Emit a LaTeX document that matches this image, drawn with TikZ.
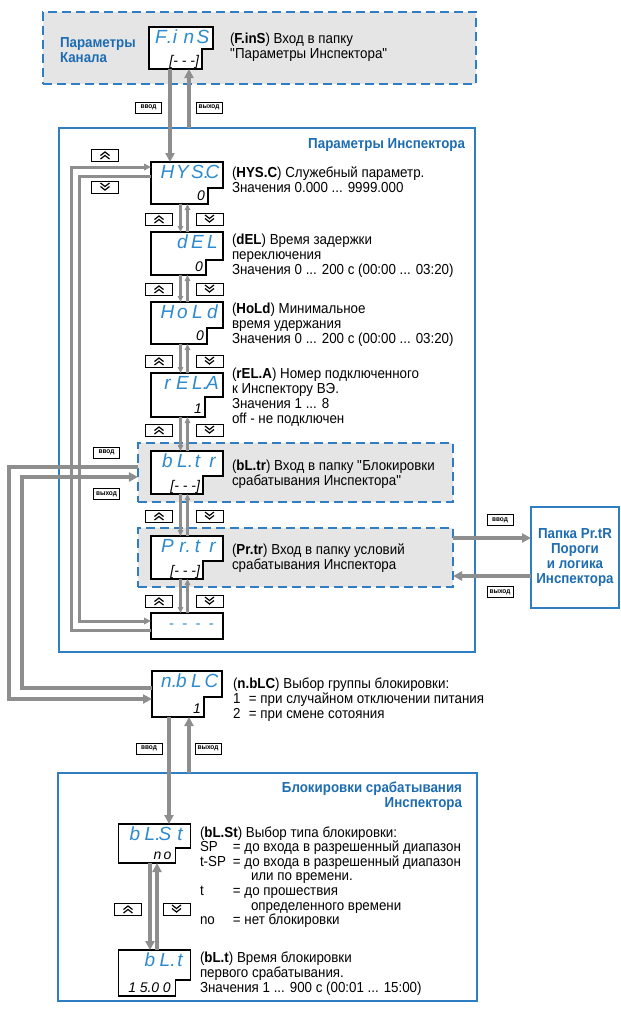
\documentclass[tikz,border=0pt]{standalone}
\usepackage{fontspec}
\setmainfont{Liberation Sans}[FakeStretch=0.92]
\newfontfamily\segfont{Liberation Sans}
\usetikzlibrary{arrows.meta}
\definecolor{tblue}{HTML}{1D6CB2}
\definecolor{bblue}{HTML}{2F7EC2}
\definecolor{sblue}{HTML}{2C8AD0}
\definecolor{agray}{HTML}{8E8E8E}
\definecolor{gfill}{HTML}{E5E5E5}
\newcommand\dg[2][15bp]{\makebox[#1][c]{#2}}
\newcommand\dispR[9]{%
  \node[minimum width=#4bp,minimum height=#5bp] (#1) at (#2,#3) {};
  \filldraw[dline] (#1.north west) -- (#1.north east) -- ([yshift=#7bp]#1.south east) -- ([xshift=-#6bp,yshift=#7bp]#1.south east) -- ([xshift=-#6bp]#1.south east) -- (#1.south west) -- cycle;
  \node[segtop,anchor=north east] (#1-t) at ([xshift=-3bp,yshift=-3bp]#1.north east) {#8};
  \node[segbot,anchor=base east] (#1-b) at ([xshift=-#6bp-3bp,yshift=4bp]#1.south east) {#9};
}
\begin{document}
\begin{tikzpicture}[x=1bp,y=-1bp,
  every node/.style={inner sep=0pt,outer sep=0pt},
  body/.style={font=\fontsize{14.5bp}{15.3bp}\selectfont,align=left,anchor=base west},
  ttl/.style={font=\fontsize{14.5bp}{15bp}\selectfont\bfseries,text=tblue},
  panel/.style={draw=bblue,line width=1.6bp},
  grp/.style={draw=bblue,fill=gfill,line width=1.8bp,dash pattern=on 9bp off 5bp},
  dline/.style={draw=black,fill=white,line width=1.3bp},
  segtop/.style={font=\segfont\itshape\fontsize{19bp}{19bp}\selectfont,text=sblue},
  segbot/.style={font=\segfont\itshape\fontsize{14bp}{14bp}\selectfont,text=black},
  keybox/.style={draw=black,fill=white,line width=0.9bp,minimum width=27bp,minimum height=12bp},
  keyup/.style={keybox,path picture={
    \draw[line width=1.2bp]
     ([xshift=-4.5bp,yshift=-4bp]path picture bounding box.center) -- ++(4.5bp,3.5bp) -- ++(4.5bp,-3.5bp)
     ([xshift=-4.5bp,yshift=-0.5bp]path picture bounding box.center) -- ++(4.5bp,3.5bp) -- ++(4.5bp,-3.5bp);}},
  keydown/.style={keybox,path picture={
    \draw[line width=1.2bp]
     ([xshift=-4.5bp,yshift=4bp]path picture bounding box.center) -- ++(4.5bp,-3.5bp) -- ++(4.5bp,3.5bp)
     ([xshift=-4.5bp,yshift=0.5bp]path picture bounding box.center) -- ++(4.5bp,-3.5bp) -- ++(4.5bp,3.5bp);}},
  lbl/.style={draw=black,fill=white,line width=0.8bp,minimum width=26bp,minimum height=11bp,font=\fontsize{7bp}{7bp}\selectfont\bfseries},
  garrow/.style={draw=agray,line width=3.6bp,-{Triangle[length=9bp,width=9bp]}},
  larrow/.style={draw=agray,line width=3bp,-{Triangle[length=7bp,width=6.5bp]}},
  parrow/.style={draw=agray,line width=2.4bp,-{Triangle[length=6bp,width=5.5bp]}},
]
\useasboundingbox (0,0) rectangle (621,1010);

% panels
\node[panel,minimum width=416bp,minimum height=524bp] (insp) at (267,390) {};
\node[panel,minimum width=419bp,minimum height=228bp] (bot) at (267.5,887) {};
\node[grp,minimum width=433bp,minimum height=72bp] (canal) at (259.5,48) {};
\node[grp,minimum width=315bp,minimum height=59bp] (bltrG) at (295.5,472.5) {};
\node[grp,minimum width=315bp,minimum height=59bp] (prtrG) at (295.5,557.5) {};
\node[panel,fill=white,minimum width=88bp,minimum height=101bp,ttl,align=center] (prtR) at (575,557.5) {Папка Pr.tR\\Пороги\\и логика\\Инспектора};

% titles
\node[ttl,anchor=base west,align=left] (canalT) at (60,62) {Параметры\\Канала};
\node[ttl,anchor=base east] (inspT) at (465,148) {Параметры Инспектора};
\node[ttl,anchor=base east,align=right] (botT) at (462,807) {Блокировки срабатывания\\Инспектора};

% displays
\dispR{finS}{181}{48}{64}{42}{11}{20}{\dg[14bp]{F\rlap{.}}\dg[14bp]{i}\dg[14bp]{n}\dg[14bp]{S}}{[- - -]}
\dispR{hysc}{187}{183}{72}{42}{15}{16}{\dg{H}\dg{Y}\dg{S\rlap{.}}\dg{C}}{0}
\dispR{del}{187}{253.5}{72}{43}{17}{15}{\dg{d}\dg{E}\dg{L}}{0}
\dispR{hold}{187}{323}{72}{42}{16}{16}{\dg{H}\dg{o}\dg{L}\dg{d}}{0}
\dispR{rela}{187}{395}{72}{44}{18}{20}{\dg{r}\dg{E}\dg{L\rlap{.}}\dg{A}}{1}
\dispR{bltr}{187}{472.5}{72}{43}{20}{18}{\dg{b}\dg{L\rlap{.}}\dg{t}\dg{r}}{[- - -]}
\dispR{prtr}{187}{557.5}{72}{43}{20}{18}{\dg{P}\dg{r\rlap{.}}\dg{t}\dg{r}}{[- - -]}
\node[dline,minimum width=72bp,minimum height=26bp] (dash) at (187,626) {};
\node[segtop,font=\segfont\fontsize{15bp}{15bp}\selectfont,anchor=east] (dash-t) at ([xshift=-9bp]dash.east) {-\ \ -\ \ -\ \ -};
\dispR{nblc}{187}{694}{70}{46}{18}{20}{\dg{n\rlap{.}}\dg{b}\dg{L}\dg{C}}{1}
\dispR{blst}{154.5}{843.5}{72}{39}{15}{15}{\dg{b}\dg{L\rlap{.}}\dg{S}\dg{t}}{\dg[10bp]{n}\dg[10bp]{o}}
\dispR{blt}{154.5}{973}{72}{46}{15}{16}{\dg{b}\dg{L\rlap{.}}\dg{t}}{\dg[11.5bp]{1}\dg[11.5bp]{5\rlap{.}}\dg[11.5bp]{0}\dg[11.5bp]{0}}

% coordinates for connectors
\coordinate (xin1) at (170,0);
\coordinate (xout1) at (189,0);
\coordinate (xpd) at (180.5,0);
\coordinate (xpu) at (187.5,0);
\coordinate (xin2) at (169,0);
\coordinate (xout2) at (189,0);
\coordinate (xbd) at (150,0);
\coordinate (xbu) at (157,0);
\coordinate (o1) at (9,467);
\coordinate (o2) at (9,699);
\coordinate (i1) at (22,477);
\coordinate (i2) at (22,688);
\coordinate (la) at (71,167);
\coordinate (lb) at (71,630);
\coordinate (lc) at (79,176);
\coordinate (ld) at (79,621);
\coordinate (yp1) at (0,538);
\coordinate (yp2) at (0,576);

% connectors
\draw[garrow] (finS.south -| xin1) -- (hysc.north -| xin1);
\draw[garrow] (insp.north -| xout1) -- (finS.south -| xout1);
\foreach \a/\b in {hysc/del,del/hold,hold/rela,rela/bltr,bltr/prtr,prtr/dash}{
  \draw[parrow] (\a.south -| xpd) -- (\b.north -| xpd);
  \draw[parrow] (\b.north -| xpu) -- (\a.south -| xpu);
}
\draw[larrow] (dash.west |- lb) -- (lb) -- (la) -- (hysc.west |- la);
\draw[larrow] (hysc.west |- lc) -- (lc) -- (ld) -- (dash.west |- ld);
\draw[garrow] (bltrG.west |- o1) -- (o1) -- (o2) -- (nblc.west |- o2);
\draw[garrow] (nblc.west |- i2) -- (i2) -- (i1) -- (bltrG.west |- i1);
\draw[garrow] (prtrG.east |- yp1) -- (prtR.west |- yp1);
\draw[garrow] (prtR.west |- yp2) -- (prtrG.east |- yp2);
\draw[garrow] (nblc.south -| xin2) -- (blst.north -| xin2);
\draw[garrow] (bot.north -| xout2) -- (nblc.south -| xout2);
\draw[garrow] (blst.south -| xbd) -- (blt.north -| xbd);
\draw[garrow] (blt.north -| xbu) -- (blst.south -| xbu);

% keys
\node[keyup] (kl1) at (105,155) {};
\node[keydown] (kl2) at (105,187) {};
\foreach \y [count=\i] in {219,289,361,430,516,601}{
  \node[keyup] (ku\i) at (159,\y) {};
  \node[keydown] (kd\i) at (209.5,\y) {};
}
\node[keyup] (kub) at (128,909) {};
\node[keydown] (kdb) at (176.5,909) {};

% labels
\node[lbl] (in1) at (148.5,107.5) {ввод};
\node[lbl] (out1) at (209,107.5) {выход};
\node[lbl] (in2) at (106.5,452.5) {ввод};
\node[lbl] (out2) at (106.5,494) {выход};
\node[lbl] (in3) at (500,520) {ввод};
\node[lbl] (out3) at (500,592) {выход};
\node[lbl] (in4) at (149,748.5) {ввод};
\node[lbl] (out4) at (208,748.5) {выход};

% texts (base anchor = baseline of the last line)
\node[body] (finsTx) at (230,58.3) {(\textbf{F.inS}) Вход в папку\\\textquotedbl Параметры Инспектора\textquotedbl};
\node[body] (hyscTx) at (232,192.3) {(\textbf{HYS.C}) Служебный параметр.\\Значения 0.000 ... 9999.000};
\node[body] (delTx) at (232,274.6) {(\textbf{dEL}) Время задержки\\переключения\\Значения 0 ... 200 с (00:00 ... 03:20)};
\node[body] (holdTx) at (232,343.6) {(\textbf{HoLd}) Минимальное\\время удержания\\Значения 0 ... 200 с (00:00 ... 03:20)};
\node[body] (relaTx) at (232,423.9) {(\textbf{rEL.A}) Номер подключенного\\к Инспектору ВЭ.\\Значения 1 ... 8\\off - не подключен};
\node[body] (bltrTx) at (232,485.3) {(\textbf{bL.tr}) Вход в папку \textquotedbl Блокировки\\срабатывания Инспектора\textquotedbl};
\node[body] (prtrTx) at (232,569.3) {(\textbf{Pr.tr}) Вход в папку условий\\срабатывания Инспектора};
\node[body] (nblcTx) at (233,718.6) {(\textbf{n.bLC}) Выбор группы блокировки:\\\makebox[16bp][l]{1}= при случайном отключении питания\\\makebox[16bp][l]{2}= при смене сотояния};
\node[body,font=\fontsize{14.5bp}{14.6bp}\selectfont] (blstTx) at (200,924.6) {(\textbf{bL.St}) Выбор типа блокировки:\\\makebox[33bp][l]{SP}= до входа в разрешенный диапазон\\\makebox[33bp][l]{t-SP}= до входа в разрешенный диапазон\\\hspace*{51bp}или по времени.\\\makebox[33bp][l]{t}= до прошествия\\\hspace*{51bp}определенного времени\\\makebox[33bp][l]{no}= нет блокировки};
\node[body,font=\fontsize{14.5bp}{15bp}\selectfont] (bltTx) at (200,992) {(\textbf{bL.t}) Время блокировки\\первого срабатывания.\\Значения 1 ... 900 с (00:01 ... 15:00)};
\end{tikzpicture}
\end{document}
